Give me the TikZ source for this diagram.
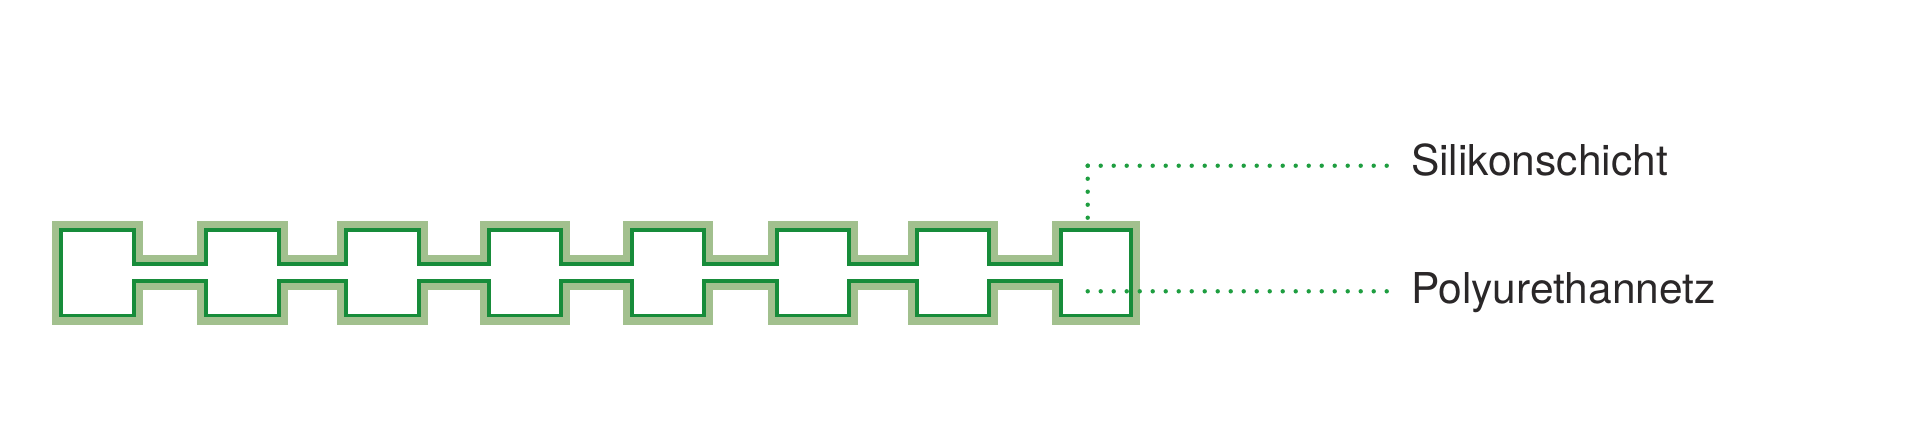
\documentclass[tikz,border=0pt]{standalone}
\usepackage{fontspec}
\setmainfont{TeX Gyre Heros}
\definecolor{darkgreen}{HTML}{178C3A}
\definecolor{lightgreen}{HTML}{A2C08E}
\definecolor{dotgreen}{HTML}{1E9E40}
\definecolor{textgray}{HTML}{2A2728}
\begin{document}
\begin{tikzpicture}[x=1pt,y=-1pt,
  band/.style={draw=lightgreen,line width=18pt,line join=miter,miter limit=10},
  netline/.style={draw=darkgreen,line width=3.8pt,line join=miter,fill=white},
  dotline/.style={draw=dotgreen,line width=4.4pt,line cap=round,dash pattern=on 0pt off 13pt},
  label/.style={inner sep=0pt,anchor=base west,text=textgray,font=\fontsize{42.5}{50}\selectfont}]
\useasboundingbox[fill=white] (0,0) rectangle (1920,437);
\def\T{230}\def\B{315.5}\def\GT{264}\def\GB{281}
\def\netpath{(61,\T) -- (134,\T) -- (134,\GT) -- (206,\GT) -- (206,\T) -- (279,\T) -- (279,\GT) -- (346,\GT) -- (346,\T) -- (419,\T) -- (419,\GT) -- (489,\GT) -- (489,\T) -- (561,\T) -- (561,\GT) -- (632,\GT) -- (632,\T) -- (704,\T) -- (704,\GT) -- (777,\GT) -- (777,\T) -- (849,\T) -- (849,\GT) -- (917,\GT) -- (917,\T) -- (989,\T) -- (989,\GT) -- (1061,\GT) -- (1061,\T) -- (1131,\T)
  -- (1131,\B) -- (1061,\B) -- (1061,\GB) -- (989,\GB) -- (989,\B) -- (917,\B) -- (917,\GB) -- (849,\GB) -- (849,\B) -- (777,\B) -- (777,\GB) -- (704,\GB) -- (704,\B) -- (632,\B) -- (632,\GB) -- (561,\GB) -- (561,\B) -- (489,\B) -- (489,\GB) -- (419,\GB) -- (419,\B) -- (346,\B) -- (346,\GB) -- (279,\GB) -- (279,\B) -- (206,\B) -- (206,\GB) -- (134,\GB) -- (134,\B) -- (61,\B) -- cycle}
\draw[band] \netpath;
\draw[netline] \netpath;
% labels
\node[label] (sil) at (1411,175.7) {Silikonschicht};
\node[label] (pur) at (1411,303.3) {Polyurethannetz};
\coordinate (silcorner) at (1087.7,165.7);
\coordinate (silend) at (1087.7,219);
\coordinate (silright) at (1387,165.7);
\coordinate (purstart) at (1087.7,291.3);
\coordinate (purend) at (1387,291.3);
\draw[dotline] (silcorner) -- (silend);
\draw[dotline] (silcorner) -- (silright);
\draw[dotline] (purstart) -- (purend);
\end{tikzpicture}
\end{document}
